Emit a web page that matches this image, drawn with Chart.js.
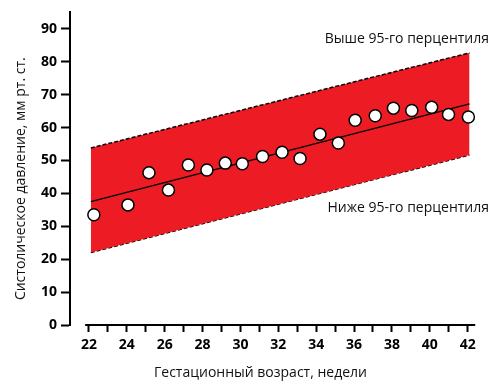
<!DOCTYPE html>
<html>
<head>
<meta charset="utf-8">
<script src="https://cdn.jsdelivr.net/npm/chart.js@4"></script>
<style>
  html, body { margin: 0; padding: 0; background: #fff; }
  #wrap { width: 493px; height: 381px; }
</style>
</head>
<body>
<div id="wrap"><canvas id="chart"></canvas></div>
<script>
// measured points
const weeks = [22.26, 24.06, 25.17, 26.2, 27.25, 28.23, 29.2, 30.1, 31.17, 32.2,
               33.15, 34.2, 35.17, 36.06, 37.12, 38.08, 39.05, 40.1, 40.99, 42.04];
const pressure = [33.5, 36.5, 46.3, 41.0, 48.6, 47.1, 49.2, 49.0, 51.2, 52.5,
                  50.6, 58.0, 55.3, 62.2, 63.6, 65.9, 65.2, 66.2, 64.0, 63.2];

// band + regression ends
const bandWeeks = [22.1, 42.1];
const upper95 = [53.8, 82.7];
const lower95 = [22.0, 51.7];
const trend = [37.5, 67.2];

const xTicks = [22, 23, 24, 25, 26, 27, 28, 29, 30, 31, 32, 33, 34, 35, 36, 37, 38, 39, 40, 41, 42];
const yTicks = [0, 10, 20, 30, 40, 50, 60, 70, 80, 90];

const xTitle = 'Гестационный возраст, недели';
const yTitle = 'Систолическое давление, мм рт. ст.';
const aboveLabel = 'Выше 95-го перцентиля';
const belowLabel = 'Ниже 95-го перцентиля';

const RED = '#ED1C24';
const FONT = '"Open Sans", "DejaVu Sans", sans-serif';

const toXY = (xs, ys) => xs.map((x, i) => ({ x: x, y: ys[i] }));

// axis line (detached from y axis), axis titles and band labels
const extras = {
  id: 'extras',
  afterDraw(chart) {
    const ctx = chart.ctx;
    const xs = chart.scales.x;
    const ys = chart.scales.y;
    const area = chart.chartArea;
    ctx.save();
    ctx.strokeStyle = '#000';
    ctx.lineWidth = 2;
    ctx.beginPath();
    ctx.moveTo(xs.getPixelForValue(21.8), area.bottom);
    ctx.lineTo(xs.getPixelForValue(42.4), area.bottom);
    ctx.stroke();

    ctx.fillStyle = '#111';
    ctx.font = '14px ' + FONT;
    ctx.textBaseline = 'middle';
    ctx.textAlign = 'center';
    ctx.fillText(xTitle, (area.left + area.right) / 2 - 14, area.bottom + 48);

    ctx.save();
    ctx.translate(21, (area.top + area.bottom) / 2 + 10);
    ctx.rotate(-Math.PI / 2);
    ctx.fillText(yTitle, 0, 0);
    ctx.restore();

    ctx.textAlign = 'right';
    ctx.fillText(aboveLabel, area.right + 10, ys.getPixelForValue(87));
    ctx.fillText(belowLabel, area.right + 10, ys.getPixelForValue(35.5));
    ctx.restore();
  }
};

new Chart(document.getElementById('chart'), {
  type: 'scatter',
  data: {
    datasets: [
      {
        label: 'points',
        data: toXY(weeks, pressure),
        pointRadius: 6,
        pointHoverRadius: 6,
        pointBackgroundColor: '#fff',
        pointBorderColor: '#000',
        pointBorderWidth: 1.5
      },
      {
        label: 'trend',
        data: toXY(bandWeeks, trend),
        showLine: true,
        pointRadius: 0,
        borderColor: '#000',
        borderWidth: 1.5
      },
      {
        label: 'upper',
        data: toXY(bandWeeks, upper95),
        showLine: true,
        pointRadius: 0,
        borderColor: '#000',
        borderWidth: 1.5,
        borderDash: [4, 2],
        backgroundColor: RED,
        fill: '+1'
      },
      {
        label: 'lower',
        data: toXY(bandWeeks, lower95),
        showLine: true,
        pointRadius: 0,
        borderColor: '#000',
        borderWidth: 1.5,
        borderDash: [4, 2]
      }
    ]
  },
  options: {
    responsive: true,
    maintainAspectRatio: false,
    animation: false,
    layout: { padding: { top: 8, right: 14, left: 0, bottom: 0 } },
    plugins: {
      legend: { display: false },
      tooltip: { enabled: false }
    },
    scales: {
      x: {
        type: 'linear',
        min: 21,
        max: 42.6,
        afterFit: (s) => { s.height = 56; },
        afterBuildTicks: (s) => {
          s.ticks = xTicks.map(v => ({ value: v }));
        },
        border: { display: false },
        grid: {
          drawOnChartArea: false,
          drawTicks: true,
          tickLength: 7,
          tickWidth: 2,
          tickColor: '#000'
        },
        ticks: {
          autoSkip: false,
          maxRotation: 0,
          padding: 5,
          color: '#000',
          font: { family: FONT, size: 14, weight: 'bold' },
          callback: (v) => (v % 2 === 0 ? String(v) : '')
        }
      },
      y: {
        min: 0,
        max: 95,
        afterFit: (s) => { s.width = 70; },
        afterBuildTicks: (s) => {
          s.ticks = yTicks.map(v => ({ value: v }));
        },
        border: { display: true, color: '#000', width: 2 },
        grid: {
          drawOnChartArea: false,
          drawTicks: true,
          tickLength: 9,
          tickWidth: 2,
          tickColor: '#000'
        },
        ticks: {
          padding: 4,
          color: '#000',
          font: { family: FONT, size: 14, weight: 'bold' }
        }
      }
    }
  },
  plugins: [extras]
});
</script>
</body>
</html>
